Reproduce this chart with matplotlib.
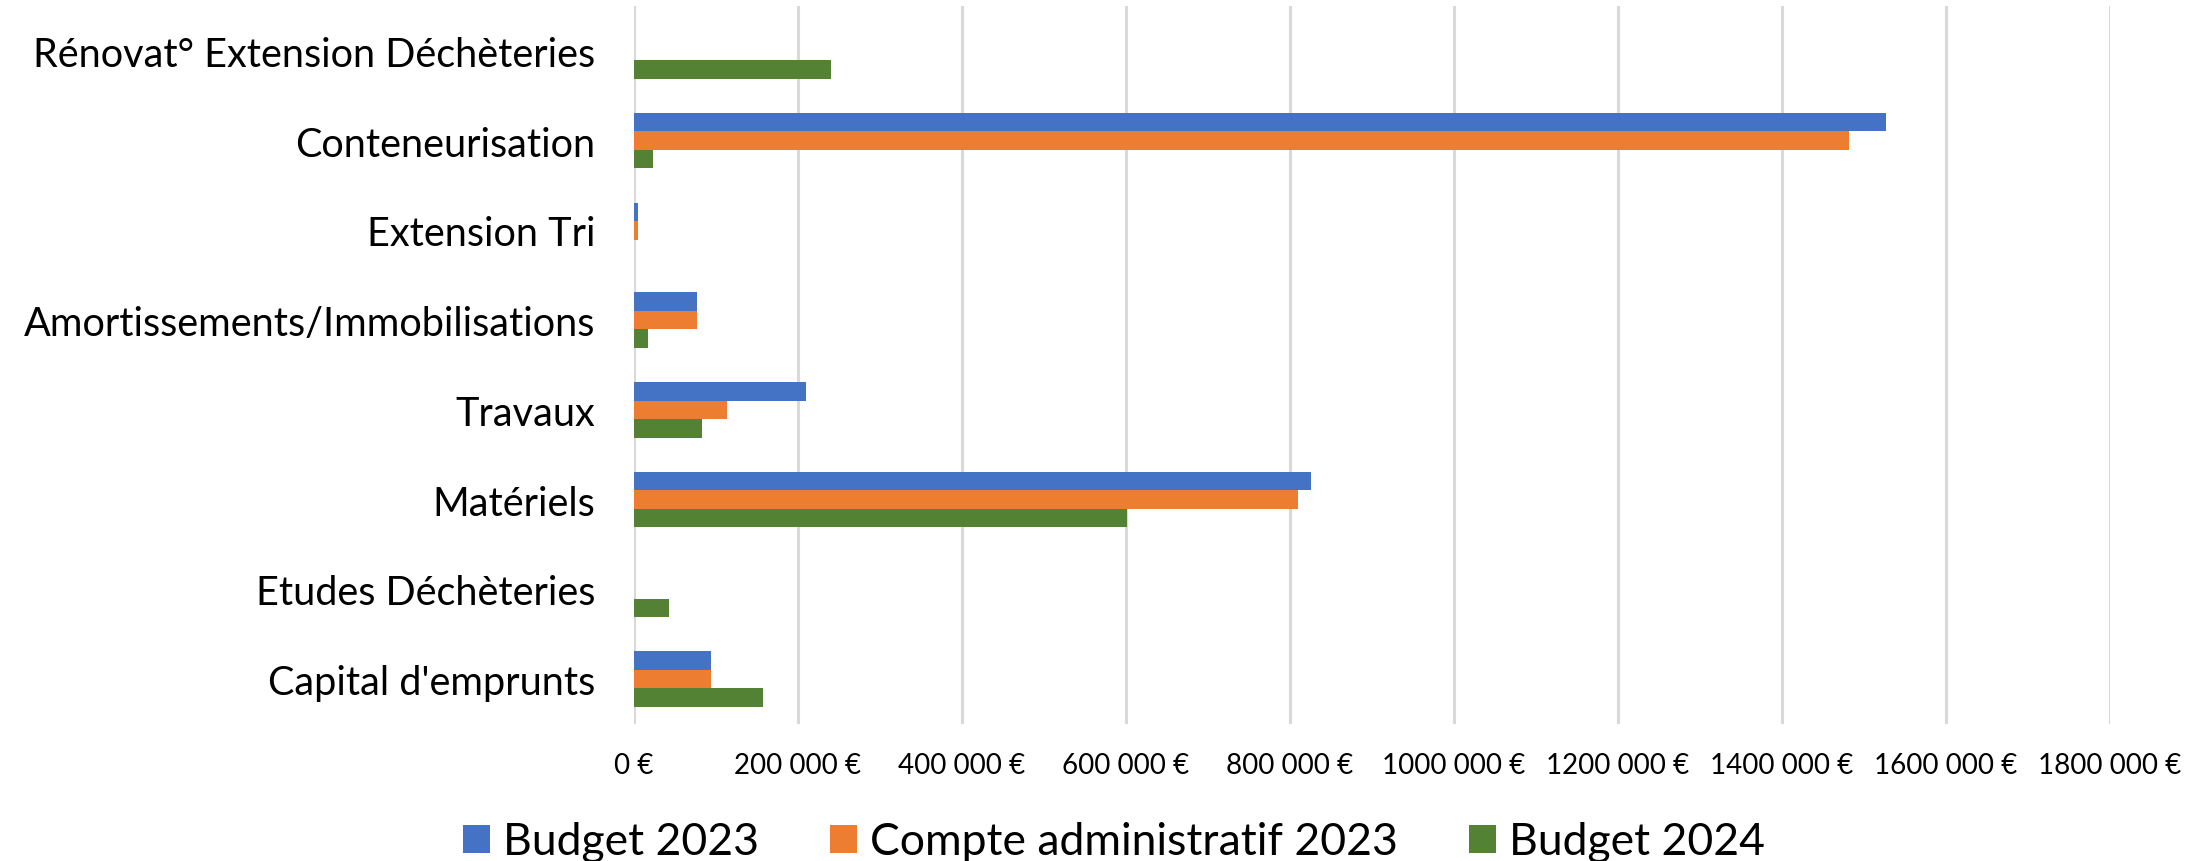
import matplotlib.pyplot as plt
import numpy as np

plt.rcParams["font.family"] = ["Lato", "DejaVu Sans"]

categories = ["Capital d'emprunts", "Etudes Déchèteries", "Matériels", "Travaux",
              "Amortissements/Immobilisations", "Extension Tri", "Conteneurisation",
              "Rénovat° Extension Déchèteries"]
budget_2023 = [94000, 0, 825000, 210000, 77000, 4500, 1527000, 0]
compte_2023 = [93500, 0, 810000, 114000, 77000, 4500, 1482000, 0]
budget_2024 = [157000, 42500, 601000, 82500, 17000, 0, 23000, 240000]
xticks = [0, 200000, 400000, 600000, 800000, 1000000, 1200000, 1400000, 1600000, 1800000]
xtick_labels = ["0 €", "200 000 €", "400 000 €", "600 000 €", "800 000 €", "1000 000 €",
                "1200 000 €", "1400 000 €", "1600 000 €", "1800 000 €"]

fig = plt.figure(figsize=(22.06, 8.62), dpi=100)
ax = fig.add_axes([634 / 2206, 1 - 725 / 862, (2110 - 634) / 2206, 718 / 862])

y = np.arange(len(categories))
h = 0.207
ax.barh(y + h, budget_2023, height=h, color="#4472C4", label="Budget 2023")
ax.barh(y, compte_2023, height=h, color="#ED7D31", label="Compte administratif 2023")
ax.barh(y - h, budget_2024, height=h, color="#548235", label="Budget 2024")

ax.set_ylim(-0.5, len(categories) - 0.5)
ax.set_xlim(0, 1800000)
ax.set_yticks(y)
ax.set_yticklabels(categories, fontsize=28.5)
ax.set_xticks(xticks)
ax.set_xticklabels(xtick_labels, fontsize=20)
ax.tick_params(axis="both", length=0)
ax.tick_params(axis="y", pad=28)
ax.tick_params(axis="x", pad=20)
ax.grid(axis="x", color="#d9d9d9", linewidth=2.2)
ax.set_axisbelow(True)
for s in ax.spines.values():
    s.set_visible(False)

fig.legend(loc="center", bbox_to_anchor=(0.505, 1 - 843 / 862), ncol=3, frameon=False,
           fontsize=32, handlelength=0.6, handleheight=0.6, columnspacing=1.6,
           handletextpad=0.3)

fig.savefig("out.png", dpi=100)
